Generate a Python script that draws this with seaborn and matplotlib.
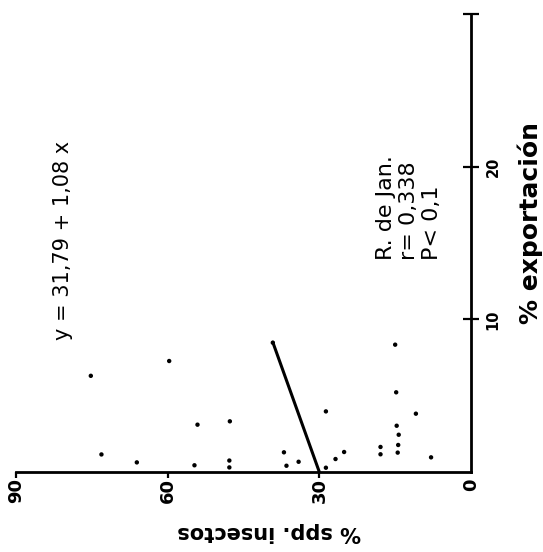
import matplotlib
matplotlib.use("Agg")
import matplotlib.pyplot as plt
import seaborn as sns
import pandas as pd

# ---- data ----
spp_insectos = [75.2, 73.1, 66.1, 59.7, 39.2, 15.0, 14.8, 28.7, 10.9, 54.1,
                47.7, 14.7, 14.3, 14.4, 14.5, 17.9, 17.9, 7.9, 25.1, 26.8,
                28.7, 37.0, 34.1, 36.5, 54.7, 47.8, 47.8]
exportacion = [6.3, 1.15, 0.63, 7.27, 8.47, 8.34, 5.22, 3.97, 3.82, 3.10,
               3.32, 3.03, 2.44, 1.77, 1.27, 1.64, 1.16, 0.96, 1.31, 0.85,
               0.28, 1.29, 0.67, 0.41, 0.44, 0.75, 0.30]
reg_exportacion = [0.0, 8.5]
reg_spp = [30.0, 39.2]

spp_ticks = [0, 30, 60, 90]
spp_ticklabels = ["0", "30", "60", "90"]
exp_ticks = [10, 20, 30]
exp_ticklabels = ["10", "20", ""]

equation = "y = 31,79 + 1,08 x"
stats_text = "R. de Jan.\nr= 0,338\nP< 0,1"
xlabel = "% spp. insectos"
ylabel = "% exportación"

df = pd.DataFrame({"spp": spp_insectos, "exp": exportacion})
reg = pd.DataFrame({"spp": reg_spp, "exp": reg_exportacion})

sns.set_style("white")
plt.rcParams["font.family"] = ["DejaVu Sans"]
plt.rcParams["text.color"] = "black"
plt.rcParams["axes.labelcolor"] = "black"
plt.rcParams["xtick.color"] = "black"
plt.rcParams["ytick.color"] = "black"

fig = plt.figure(figsize=(5.43, 5.52), dpi=100)
ax = fig.add_axes([16 / 543, 80 / 552, 455 / 543, 458 / 552])

sns.scatterplot(data=df, x="spp", y="exp", ax=ax, color="black", s=10,
                edgecolor="none", legend=False, zorder=3)
sns.lineplot(data=reg, x="spp", y="exp", ax=ax, color="black", lw=2.2,
             sort=False, estimator=None, legend=False)

ax.set_xlim(90, 0)
ax.set_ylim(0, 30)

for side in ["top", "left"]:
    ax.spines[side].set_visible(False)
for side in ["bottom", "right"]:
    ax.spines[side].set_visible(True)
    ax.spines[side].set_linewidth(2)
    ax.spines[side].set_color("black")

ax.yaxis.tick_right()
ax.yaxis.set_label_position("right")

ax.set_xticks(spp_ticks)
ax.set_xticklabels(spp_ticklabels, rotation=90, fontsize=13, fontweight="bold")
ax.set_yticks(exp_ticks)
ax.set_yticklabels(exp_ticklabels, rotation=90, fontsize=10.5, fontweight="bold",
                   va="center")

ax.tick_params(axis="x", direction="out", length=4, width=1.6, pad=0.5,
               color="black", bottom=True)
ax.tick_params(axis="y", direction="inout", length=11, width=1.6, pad=5,
               color="black", right=True, left=False)
ax.xaxis.get_major_ticks()[0].tick1line.set_visible(False)

ax.set_xlabel(xlabel, rotation=180, fontsize=15, fontweight="bold",
              ha="center", va="center")
ax.xaxis.set_label_coords(0.556, -0.131)
ax.set_ylabel(ylabel, rotation=90, fontsize=18, fontweight="bold",
              ha="center", va="center")
ax.yaxis.set_label_coords(1.13, 0.544)

ax.text(80.7, 8.64, equation, rotation=90, fontsize=15, ha="center",
        va="bottom", color="black")
ax.text(12.3, 13.9, stats_text, rotation=90, fontsize=16, ha="center",
        va="bottom", multialignment="left", linespacing=1.2, color="black")

ax.grid(False)
fig.savefig("out.png", dpi=100)
